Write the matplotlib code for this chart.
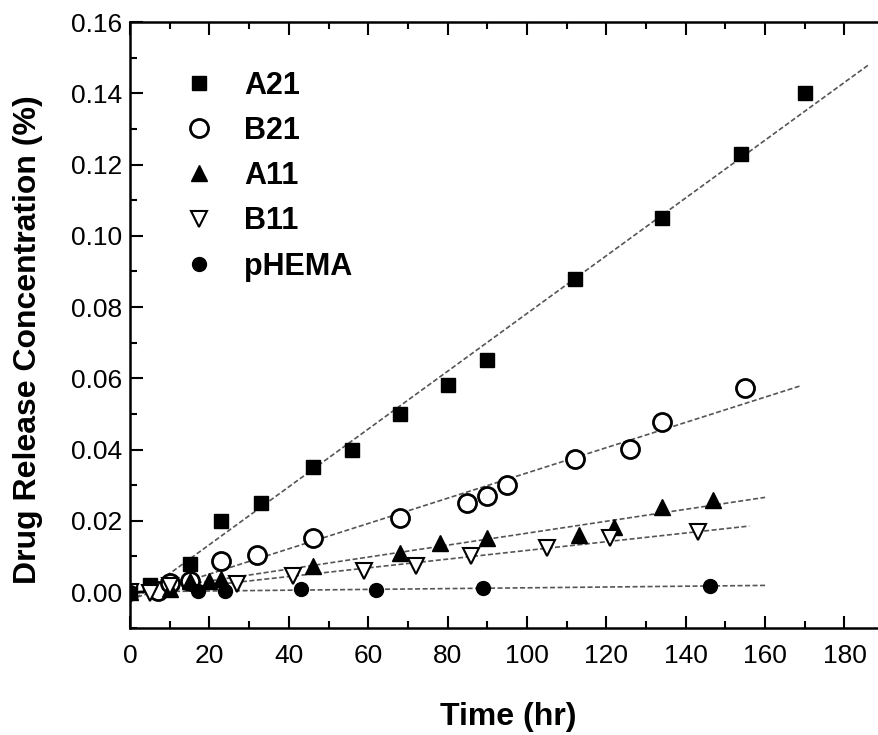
import numpy as np
import matplotlib
matplotlib.use('Agg')
import matplotlib.pyplot as plt
from matplotlib.ticker import MultipleLocator, FormatStrFormatter

matplotlib.rcParams.update({'font.family': 'Liberation Sans', 'font.size': 19})

# data (time in hr, concentration in %)
a21_t = [0, 5, 15, 23, 33, 46, 56, 68, 80, 90, 112, 134, 154, 170]
a21_c = [0, 0.002, 0.008, 0.020, 0.025, 0.035, 0.040, 0.050, 0.058, 0.065,
         0.088, 0.105, 0.123, 0.140]
b21_t = [7, 10, 15, 23, 32, 46, 68, 85, 90, 95, 112, 126, 134, 155]
b21_c = [0.0003, 0.0025, 0.003, 0.0087, 0.0104, 0.0152, 0.0208, 0.025, 0.027,
         0.030, 0.0374, 0.0402, 0.0476, 0.0574]
a11_t = [0, 10, 15, 20, 23, 46, 68, 78, 90, 113, 122, 134, 147]
a11_c = [0, 0.001, 0.003, 0.003, 0.0036, 0.0073, 0.011, 0.0138, 0.0152,
         0.016, 0.0183, 0.0239, 0.0259]
b11_t = [0, 5, 10, 27, 41, 59, 72, 86, 105, 121, 143]
b11_c = [0, -0.0002, 0.0017, 0.0022, 0.0045, 0.0059, 0.0073, 0.010, 0.0124,
         0.0152, 0.0169]
phema_t = [0, 17, 24, 43, 62, 89, 146]
phema_c = [0, 0.0003, 0.0003, 0.0008, 0.0006, 0.0011, 0.0017]

fig = plt.figure(figsize=(8.79, 7.35), dpi=100)
ax = fig.add_axes([0.148, 0.146, 0.903, 0.824])

series = [
    (a21_t, a21_c, 'A21', dict(marker='s', ms=10.5, mfc='k', mec='k'), 186),
    (b21_t, b21_c, 'B21', dict(marker='o', ms=13, mfc='white', mec='k', mew=2), 169),
    (a11_t, a11_c, 'A11', dict(marker='^', ms=12, mfc='k', mec='k'), 160),
    (b11_t, b11_c, 'B11', dict(marker='v', ms=12, mfc='white', mec='k', mew=1.5), 156),
    (phema_t, phema_c, 'pHEMA', dict(marker='o', ms=10, mfc='k', mec='k'), 160),
]

for t, c, name, style, tend in series:
    # linear fit line
    k, b = np.polyfit(t, c, 1)
    tt = np.array([0, tend])
    ax.plot(tt, k * tt + b, color='#555555', lw=1.2, ls=(0, (3, 1.5)), zorder=1)
    ax.plot(t, c, ls='none', label=name, zorder=3, **style)

ax.set_xlim(0, 200)
ax.set_ylim(-0.01, 0.16)
ax.xaxis.set_minor_locator(MultipleLocator(10))
ax.set_xticks(np.arange(0, 181, 20))
ax.yaxis.set_major_locator(MultipleLocator(0.02))
ax.yaxis.set_minor_locator(MultipleLocator(0.01))
ax.yaxis.set_major_formatter(FormatStrFormatter('%.2f'))
ax.tick_params(which='both', direction='in', top=True, right=True, width=1.5)
ax.tick_params(which='major', length=9)
ax.tick_params(which='minor', length=5)
ax.tick_params(axis='x', which='major', pad=12)
ax.tick_params(axis='y', which='major', pad=6)
for s in ax.spines.values():
    s.set_linewidth(1.8)

ax.set_ylabel('Drug Release Concentration (%)', fontsize=23, fontweight='bold')
ax.yaxis.set_label_coords(-0.11, 0.475)
ax.set_xlabel('Time (hr)', fontsize=23, fontweight='bold')
ax.xaxis.set_label_coords(0.476, -0.122)

ax.legend(loc='upper left', bbox_to_anchor=(0.067, 0.92), frameon=False,
          prop={'weight': 'bold', 'size': 22}, handlelength=1.0,
          handletextpad=1.0, labelspacing=0.5, borderpad=0,
          borderaxespad=0, markerscale=1.0)

plt.savefig('out.png', dpi=100)
